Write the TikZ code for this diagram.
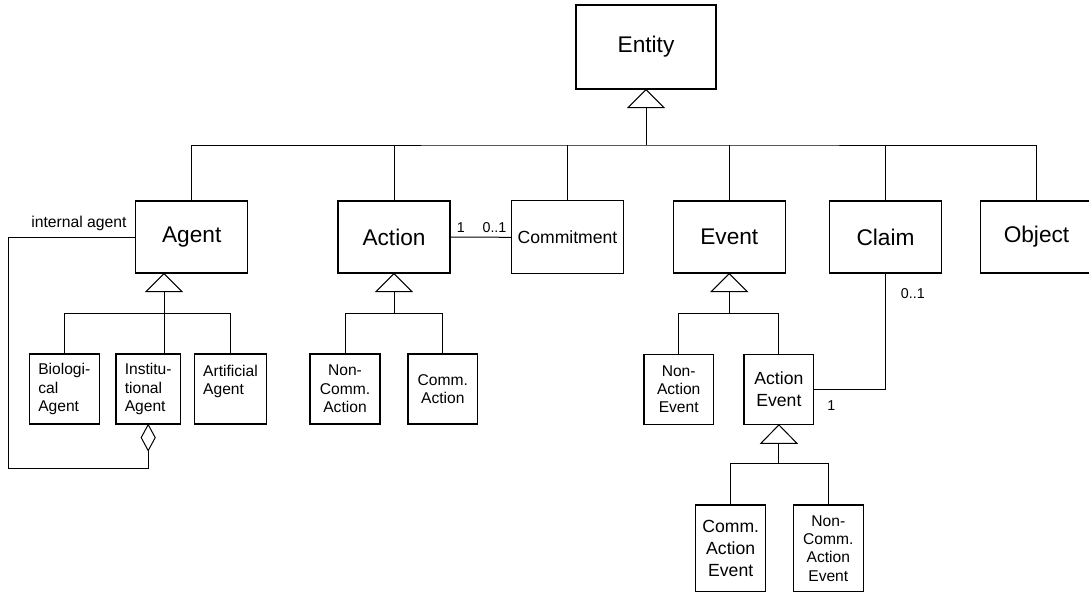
\documentclass[tikz,border=0pt]{standalone}
\usepackage{fontspec}
\setmainfont{Liberation Sans}
\usetikzlibrary{calc}
\begin{document}
\begin{tikzpicture}[x=0.75pt,y=-0.75pt,
  cls/.style 2 args={draw, line width=0.9pt, inner sep=0pt, fill=white,
    minimum width=#1*0.75pt, minimum height=#2*0.75pt, align=center},
  big/.style={font=\fontsize{17}{20}\selectfont},
  mid/.style={font=\fontsize{13.2}{16.3}\selectfont},
  sml/.style={font=\fontsize{11.7}{13.8}\selectfont},
  lbl/.style={font=\fontsize{10.7}{12}\selectfont, inner sep=0pt, anchor=base west},
  link/.style={line width=0.75pt},
  gen/.style={line width=0.75pt, fill=white},
]
\useasboundingbox (0,0) rectangle (1089,594);

% classes
\node[cls={140}{84}, big] (ent) at (646,47) {Entity};
\node[cls={112}{72}, big] (agent) at (191.7,237) {Agent};
\node[cls={112}{72}, big] (action) at (394,237) {Action};
\node[cls={112}{73}, font=\fontsize{13.2}{16}\selectfont] (commit) at (567.5,237.3) {Commitment};
\node[cls={112}{72}, big] (event) at (729.3,237) {Event};
\node[cls={112}{72}, big] (claim) at (885.5,237) {Claim};
\node[cls={112}{72}, big] (object) at (1036.5,237) {Object};

\node[cls={70}{70}, sml, align=left] (bio) at (64.3,389) {Biologi-\\cal\\Agent};
\node[cls={64.3}{70}, sml, align=left] (inst) at (148.2,389) {Institu-\\tional\\Agent};
\node[cls={72.4}{70}, sml, align=left] (art) at (230.5,389) {Artificial\\Agent\\\phantom{A}};

\node[cls={70}{70}, sml] (nca) at (345,389) {Non-\\Comm.\\Action};
\node[cls={69.7}{70}, sml] (ca) at (442.8,389) {Comm.\\Action};

\node[cls={69.3}{70}, sml] (nae) at (678.7,389.3) {Non-\\Action\\Event};
\node[cls={69.7}{70}, mid] (ae) at (778.9,389.3) {Action\\Event};

\node[cls={70}{86.7}, mid] (cae) at (730.7,548.3) {Comm.\\Action\\Event};
\node[cls={70}{86.7}, sml] (ncae) at (828.3,548.3) {Non-\\Comm.\\Action\\Event};

% generalization: Entity
\coordinate (jE) at (646,145);
\draw[gen] (ent.south) -- ++(-18,18) -- ++(36,0) -- cycle;
\draw[link] ($(ent.south)+(0,18)$) -- (jE);
\draw[link] (agent.north) |- (jE) -| (object.north);
\foreach \c in {action,commit,event,claim}
  \draw[link] (\c.north) -- (\c.north |- jE);

% generalization: Agent
\coordinate (agtip) at ($(agent.south)+(-27.7,0)$);
\coordinate (jA) at ($(agtip)+(0,39.7)$);
\draw[gen] (agtip) -- ++(-18,18) -- ++(36,0) -- cycle;
\draw[link] ($(agtip)+(0,18)$) -- (jA);
\draw[link] (bio.north) |- (jA) -| (art.north);
\draw[link] (jA) -- (jA |- inst.north);

% aggregation: internal agent
\coordinate (loopA) at (8.7,468.3);
\draw[gen] (inst.south) -- ++(7,13) -- ++(-7,13) -- ++(-7,-13) -- cycle;
\draw[link] ($(inst.south)+(0,26)$) |- (loopA) |- (agent.west);
\node[lbl, font=\fontsize{11.8}{13}\selectfont] (intlbl) at (31,227.3) {internal agent};

% generalization: Action
\coordinate (jAc) at ($(action.south)+(0,39.7)$);
\draw[gen] (action.south) -- ++(-18,18) -- ++(36,0) -- cycle;
\draw[link] ($(action.south)+(0,18)$) -- (jAc);
\draw[link] (nca.north) |- (jAc) -| (ca.north);

% association Action -- Commitment
\draw[link] (action.east) -- (commit.west);
\node[lbl] (m1) at (456.5,232.7) {1};
\node[lbl] (m2) at (482.3,232.7) {0..1};

% generalization: Event
\coordinate (jEv) at ($(event.south)+(0,39.7)$);
\draw[gen] (event.south) -- ++(-18,18) -- ++(36,0) -- cycle;
\draw[link] ($(event.south)+(0,18)$) -- (jEv);
\draw[link] (nae.north) |- (jEv) -| (ae.north);

% association Action Event -- Claim
\draw[link] (ae.east) -| (claim.south);
\node[lbl] (m3) at (900.7,298.3) {0..1};
\node[lbl] (m4) at (827,410) {1};

% generalization: Action Event
\coordinate (jAe) at ($(ae.south)+(0,38.4)$);
\draw[gen] (ae.south) -- ++(-18,18.4) -- ++(36,0) -- cycle;
\draw[link] ($(ae.south)+(0,18.4)$) -- (jAe);
\draw[link] (cae.north) |- (jAe) -| (ncae.north);
\end{tikzpicture}
\end{document}
